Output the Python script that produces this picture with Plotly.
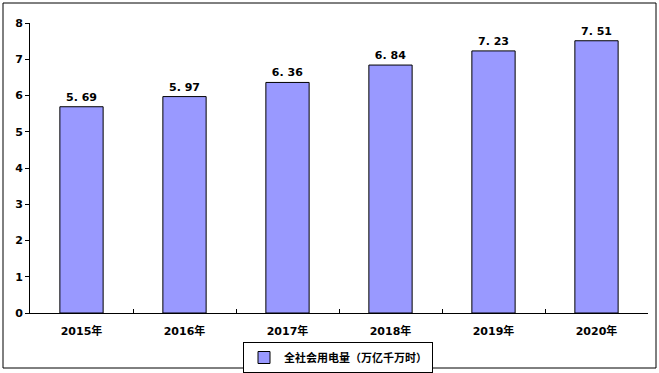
import plotly.graph_objects as go

years = ["2015年", "2016年", "2017年", "2018年", "2019年", "2020年"]
values = [5.69, 5.97, 6.36, 6.84, 7.23, 7.51]
value_labels = ["5. 69", "5. 97", "6. 36", "6. 84", "7. 23", "7. 51"]
series_name = "全社会用电量（万亿千万时）"
y_ticks = [0, 1, 2, 3, 4, 5, 6, 7, 8]

FONT = "DejaVu Sans, Noto Sans CJK SC, sans-serif"

fig = go.Figure()
fig.add_trace(go.Bar(
    x=years, y=values, name=series_name,
    text=value_labels, textposition="outside", cliponaxis=False,
    textfont=dict(family=FONT, size=11, color="black", weight="bold"),
    marker=dict(color="#9999FF", line=dict(color="black", width=1)),
    width=0.42, showlegend=True,
))

L, R, T, B = 30, 11, 23, 60
W, H = 659, 373
pw, ph = W - L - R, H - T - B

fig.update_layout(
    width=W, height=H,
    margin=dict(l=L, r=R, t=T, b=B, autoexpand=False),
    paper_bgcolor="white", plot_bgcolor="white",
    font=dict(family=FONT, size=11, color="black"),
    showlegend=True,
    legend=dict(
        orientation="h", xref="container", yref="container",
        x=338 / W, xanchor="center", y=(H - 342) / H, yanchor="top",
        bordercolor="black", borderwidth=1, bgcolor="white",
        font=dict(family=FONT, size=11, color="black", weight="bold"),
        itemwidth=30, tracegroupgap=0, entrywidthmode="pixels",
    ),
    xaxis=dict(
        type="category", range=[-0.5, 5.5], automargin=False,
        showline=True, linecolor="black", linewidth=1,
        ticks="inside", tickson="boundaries", ticklen=4, tickcolor="black",
        tickfont=dict(family=FONT, size=11, color="black", weight="bold"),
        ticklabelstandoff=8,
        showgrid=False, zeroline=False,
    ),
    yaxis=dict(
        range=[0, 8], tickvals=y_ticks, automargin=False,
        showline=True, linecolor="black", linewidth=1,
        ticks="outside", ticklen=4, tickcolor="black",
        tickfont=dict(family=FONT, size=11, color="black", weight="bold"),
        showgrid=False, zeroline=False,
    ),
    bargap=0.58,
)

fig.add_shape(
    type="rect", xref="paper", yref="paper",
    x0=(3 - L) / pw, x1=(656 - L) / pw,
    y0=(313 - 368) / ph, y1=(313 - 3) / ph,
    line=dict(color="black", width=1), fillcolor="rgba(0,0,0,0)", layer="below",
)

fig.write_html(
    "out.html",
    config={"responsive": False, "displayModeBar": False},
    post_script="document.body.style.margin='0';document.body.style.overflow='hidden';",
)
